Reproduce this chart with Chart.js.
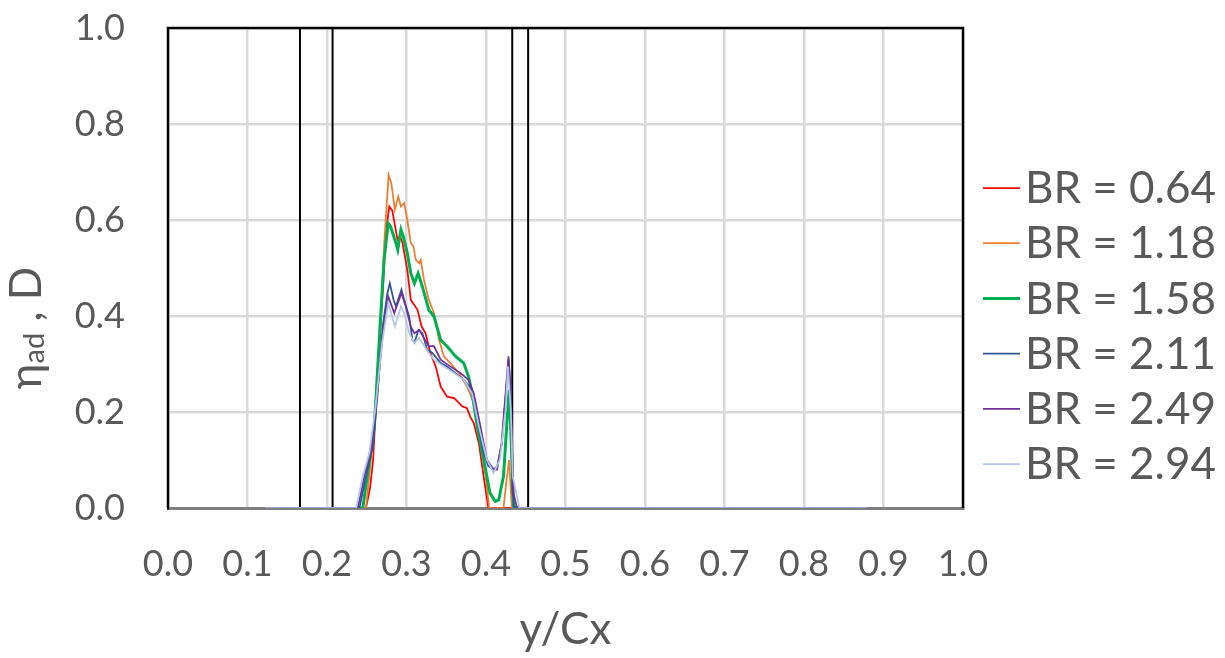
<!DOCTYPE html>
<html lang="en">
<head>
    <meta charset="UTF-8">
    <meta name="viewport" content="width=device-width, initial-scale=1.0">
    <title>ηad , D versus y/Cx</title>
    <script src="https://cdn.jsdelivr.net/npm/chart.js@4.4.1/dist/chart.umd.min.js"></script>
    <style>
        body {
            margin: 0;
            background-color: #ffffff;
        }
        #chart-wrapper {
            position: relative;
            width: 1225px;
            height: 658px;
        }
    </style>
</head>
<body>
    <div id="chart-wrapper">
        <canvas id="etaChart"></canvas>
    </div>

    <script>
        // series names and colours (Excel palette)
        const seriesLabels = ['BR = 0.64', 'BR = 1.18', 'BR = 1.58', 'BR = 2.11', 'BR = 2.49', 'BR = 2.94'];
        const seriesColors = ['#FF0000', '#ED7D31', '#00B050', '#2F5597', '#7030A0', '#B4C7E7'];
        const seriesWidths = [1.75, 1.75, 3, 1.75, 1.75, 1.75];

        // y/Cx positions and eta values
        const br064X = [0.122, 0.249, 0.254, 0.258, 0.2646, 0.270, 0.2745, 0.2783, 0.282, 0.2887, 0.292, 0.295, 0.301, 0.3054, 0.3138, 0.319, 0.324, 0.330, 0.3367, 0.343, 0.351, 0.360, 0.370, 0.376, 0.380, 0.3846, 0.391, 0.397, 0.403, 0.88];
        const br064Y = [0, 0, 0.04, 0.10, 0.31, 0.45, 0.58, 0.628, 0.62, 0.559, 0.566, 0.552, 0.496, 0.434, 0.413, 0.378, 0.364, 0.323, 0.295, 0.253, 0.232, 0.229, 0.212, 0.208, 0.191, 0.177, 0.135, 0.066, 0, 0];

        const br118X = [0.122, 0.249, 0.2596, 0.267, 0.272, 0.2775, 0.281, 0.2854, 0.2896, 0.293, 0.297, 0.301, 0.3054, 0.3088, 0.3117, 0.316, 0.318, 0.322, 0.328, 0.3346, 0.341, 0.347, 0.355, 0.366, 0.376, 0.383, 0.391, 0.3996, 0.404, 0.422, 0.426, 0.429, 0.4325, 0.88];
        const br118Y = [0, 0, 0.17, 0.378, 0.552, 0.694, 0.676, 0.621, 0.649, 0.628, 0.635, 0.600, 0.552, 0.545, 0.517, 0.510, 0.517, 0.475, 0.434, 0.406, 0.350, 0.316, 0.302, 0.281, 0.253, 0.226, 0.17, 0.066, 0, 0, 0.06, 0.10, 0, 0];

        const br158X = [0.238, 0.245, 0.2596, 0.2667, 0.2718, 0.277, 0.280, 0.2867, 0.289, 0.293, 0.296, 0.301, 0.3054, 0.310, 0.3146, 0.320, 0.328, 0.3346, 0.343, 0.351, 0.3617, 0.372, 0.378, 0.3825, 0.389, 0.397, 0.405, 0.4117, 0.416, 0.422, 0.426, 0.429, 0.431, 0.4346, 0.442];
        const br158Y = [0, 0, 0.17, 0.378, 0.517, 0.593, 0.586, 0.552, 0.538, 0.580, 0.566, 0.531, 0.489, 0.468, 0.489, 0.461, 0.413, 0.399, 0.350, 0.337, 0.316, 0.302, 0.274, 0.239, 0.170, 0.101, 0.031, 0.014, 0.017, 0.066, 0.17, 0.246, 0.17, 0.003, 0];

        const br211X = [0.122, 0.2408, 0.249, 0.2575, 0.2637, 0.270, 0.276, 0.279, 0.2837, 0.2867, 0.2937, 0.297, 0.3033, 0.3075, 0.310, 0.315, 0.320, 0.326, 0.3325, 0.343, 0.351, 0.3617, 0.372, 0.3825, 0.389, 0.397, 0.403, 0.4096, 0.414, 0.420, 0.425, 0.4283, 0.4312, 0.4337, 0.4354, 0.88];
        const br211Y = [0, 0, 0.066, 0.128, 0.239, 0.378, 0.448, 0.468, 0.434, 0.420, 0.455, 0.434, 0.399, 0.350, 0.344, 0.371, 0.364, 0.330, 0.323, 0.302, 0.295, 0.281, 0.267, 0.246, 0.184, 0.115, 0.087, 0.080, 0.087, 0.135, 0.239, 0.309, 0.239, 0.031, 0, 0];

        const br249X = [0.122, 0.2387, 0.247, 0.2554, 0.262, 0.270, 0.277, 0.2846, 0.2937, 0.299, 0.3054, 0.310, 0.316, 0.328, 0.3346, 0.343, 0.355, 0.368, 0.378, 0.3846, 0.393, 0.401, 0.4096, 0.414, 0.4196, 0.4246, 0.4283, 0.4312, 0.4346, 0.439, 0.88];
        const br249Y = [0, 0, 0.066, 0.128, 0.22, 0.36, 0.441, 0.406, 0.448, 0.420, 0.378, 0.364, 0.371, 0.337, 0.337, 0.309, 0.295, 0.281, 0.267, 0.239, 0.170, 0.101, 0.080, 0.080, 0.135, 0.239, 0.316, 0.239, 0.031, 0, 0];

        const br294X = [0.122, 0.2367, 0.245, 0.2533, 0.261, 0.269, 0.277, 0.2854, 0.293, 0.297, 0.3033, 0.3096, 0.316, 0.328, 0.3346, 0.347, 0.360, 0.372, 0.3825, 0.391, 0.401, 0.4096, 0.4175, 0.4246, 0.4275, 0.4312, 0.4337, 0.442, 0.88];
        const br294Y = [0, 0, 0.066, 0.115, 0.21, 0.34, 0.427, 0.378, 0.420, 0.406, 0.365, 0.344, 0.354, 0.323, 0.309, 0.295, 0.281, 0.267, 0.239, 0.170, 0.101, 0.073, 0.101, 0.205, 0.295, 0.205, 0.066, 0, 0];

        // black vertical reference lines (y/Cx)
        const markerX = [0.166, 0.207, 0.433, 0.453];

        const seriesX = [br064X, br118X, br158X, br211X, br249X, br294X];
        const seriesY = [br064Y, br118Y, br158Y, br211Y, br249Y, br294Y];

        const textGray = '#595959';
        const baseFont = 'Lato, "Noto Sans", sans-serif';

        const datasets = seriesLabels.map((label, i) => ({
            label: label,
            data: seriesX[i].map((x, j) => ({ x: x, y: seriesY[i][j] })),
            borderColor: seriesColors[i],
            backgroundColor: seriesColors[i],
            borderWidth: seriesWidths[i],
            pointRadius: 0,
            tension: 0,
            fill: false,
            order: seriesLabels.length - i   // later series drawn on top, like Excel
        }));

        markerX.forEach(x => {
            datasets.push({
                label: 'marker',
                data: [{ x: x, y: 0 }, { x: x, y: 1 }],
                borderColor: '#000000',
                borderWidth: 2,
                pointRadius: 0,
                fill: false,
                order: 20
            });
        });

        // frame, y title with subscript and the legend on the right
        const decorations = {
            id: 'decorations',
            beforeDatasetsDraw(chart) {
                const { ctx, chartArea } = chart;
                ctx.save();
                ctx.strokeStyle = '#000000';
                ctx.lineWidth = 2.5;
                ctx.beginPath();
                ctx.moveTo(chartArea.left, chartArea.bottom);
                ctx.lineTo(chartArea.left, chartArea.top);
                ctx.lineTo(chartArea.right, chartArea.top);
                ctx.lineTo(chartArea.right, chartArea.bottom);
                ctx.stroke();
                ctx.restore();
            },
            afterDraw(chart) {
                const { ctx, chartArea } = chart;
                ctx.save();

                // y axis title: eta_ad , D
                const midY = (chartArea.top + chartArea.bottom) / 2 + 60;
                ctx.fillStyle = textGray;
                ctx.textBaseline = 'alphabetic';
                ctx.textAlign = 'left';
                const bigFont = '44px ' + baseFont;
                const smallFont = '29px ' + baseFont;
                ctx.font = bigFont;
                const w1 = ctx.measureText('η').width;
                const w3 = ctx.measureText(' , D').width;
                ctx.font = smallFont;
                const w2 = ctx.measureText('ad').width;
                const total = w1 + w2 + w3;
                ctx.translate(41, midY + total / 2);
                ctx.rotate(-Math.PI / 2);
                ctx.font = bigFont;
                ctx.fillText('η', 0, 0);
                ctx.font = smallFont;
                ctx.fillText('ad', w1, 3);
                ctx.font = bigFont;
                ctx.fillText(' , D', w1 + w2, 0);
                ctx.setTransform(1, 0, 0, 1, 0, 0);

                // legend
                const lx = chartArea.right + 20;
                const ly = chartArea.top + 160;
                ctx.font = '44px ' + baseFont;
                ctx.textBaseline = 'middle';
                seriesLabels.forEach((label, i) => {
                    const y = ly + i * 55.2;
                    ctx.strokeStyle = seriesColors[i];
                    ctx.lineWidth = seriesWidths[i];
                    ctx.beginPath();
                    ctx.moveTo(lx, y);
                    ctx.lineTo(lx + 37, y);
                    ctx.stroke();
                    ctx.fillStyle = textGray;
                    ctx.fillText(label, lx + 42, y + 1);
                });
                ctx.restore();
            }
        };

        const ctx = document.getElementById('etaChart').getContext('2d');
        new Chart(ctx, {
            type: 'line',
            data: { datasets: datasets },
            options: {
                responsive: true,
                maintainAspectRatio: false,
                animation: false,
                devicePixelRatio: 1,
                layout: {
                    padding: { top: 28, right: 262, left: 0, bottom: 0 }
                },
                plugins: {
                    legend: { display: false },
                    tooltip: { enabled: false }
                },
                scales: {
                    x: {
                        type: 'linear',
                        min: 0,
                        max: 1,
                        afterFit: function(scale) {
                            scale.height = 150;
                            scale.paddingLeft = 0;
                            scale.paddingRight = 0;
                        },
                        ticks: {
                            stepSize: 0.1,
                            padding: 35,
                            color: textGray,
                            font: { family: baseFont, size: 36 },
                            callback: v => v.toFixed(1)
                        },
                        grid: {
                            color: '#D9D9D9',
                            lineWidth: 2.5,
                            drawTicks: false
                        },
                        border: { color: '#7F7F7F', width: 3 },
                        title: {
                            display: true,
                            text: 'y/Cx',
                            color: textGray,
                            font: { family: baseFont, size: 44 },
                            padding: { top: 0, bottom: 2 }
                        }
                    },
                    y: {
                        min: 0,
                        max: 1,
                        afterFit: function(scale) {
                            scale.width = 168;
                            scale.paddingTop = 0;
                            scale.paddingBottom = 0;
                        },
                        ticks: {
                            stepSize: 0.2,
                            padding: 43,
                            color: textGray,
                            font: { family: baseFont, size: 36 },
                            callback: v => v.toFixed(1)
                        },
                        grid: {
                            color: '#D9D9D9',
                            lineWidth: 2.5,
                            drawTicks: false
                        },
                        border: { color: '#000000', width: 2 }
                    }
                }
            },
            plugins: [decorations]
        });
    </script>
</body>
</html>
